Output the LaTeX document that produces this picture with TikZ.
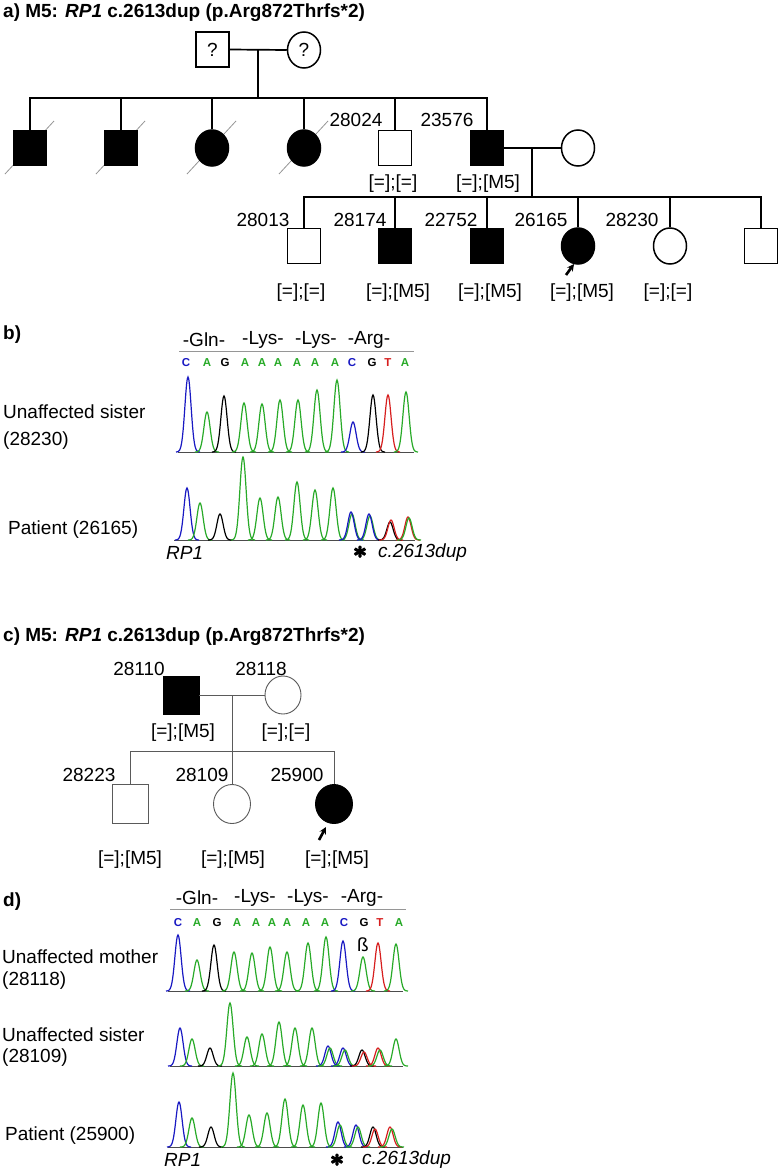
\documentclass[tikz,border=0pt]{standalone}
\usepackage{fontspec}
\setmainfont{Liberation Sans}
\usetikzlibrary{arrows.meta,shapes.geometric}
\definecolor{cblue}{RGB}{25,25,195}
\definecolor{cgreen}{RGB}{40,170,40}
\definecolor{cred}{RGB}{215,30,30}
\definecolor{cgray}{RGB}{150,150,150}
\definecolor{thinline}{RGB}{90,90,90}
\newcommand{\heavyast}{\special{pdf:literal direct 2 Tr 1.2 w}$\ast$\special{pdf:literal direct 0 Tr}}
\tikzset{
 lbl/.style={inner sep=0pt, font=\fontsize{19}{21}\selectfont},
 lblw/.style={lbl, anchor=west},
 ttl/.style={inner sep=0pt, anchor=west, font=\fontsize{19}{21}\selectfont\bfseries},
 nuc/.style={inner sep=0pt, font=\fontsize{11.5}{13}\selectfont\bfseries},
 sq/.style={draw, rectangle, minimum width=33pt, minimum height=35pt, inner sep=0pt, line width=1.5pt, font=\fontsize{19}{21}\selectfont},
 ci/.style={draw, ellipse, minimum width=33pt, minimum height=36pt, inner sep=0pt, line width=1.5pt, font=\fontsize{19}{21}\selectfont},
 sqc/.style={draw=thinline, rectangle, minimum width=36pt, minimum height=38pt, inner sep=0pt, line width=0.9pt},
 cic/.style={draw=thinline, ellipse, minimum width=36pt, minimum height=38pt, inner sep=0pt, line width=0.9pt},
 aff/.style={fill=black, draw=black},
 un/.style={fill=white},
 conn/.style={line width=1.7pt},
 thinconn/.style={line width=0.9pt, draw=thinline},
 dec/.style={draw=cgray, line width=0.8pt},
 proband/.style={-{Stealth[length=7pt,width=7pt]}, line width=2.6pt},
 trace/.style={line width=1.2pt},
 tbase/.style={line width=0.8pt, draw=black!70},
 aaline/.style={draw=cgray, line width=0.8pt},
 star/.style={inner sep=0pt, font=\fontsize{25}{25}\selectfont\boldmath},
 ital/.style={lblw, font=\fontsize{19}{21}\selectfont\itshape},
}
\newcommand{\peaks}[2]{%
 \foreach \c/\p/\t in {#2} {\draw[trace,\c] plot[domain=\p-12:\p+12,samples=35,smooth] (\x,{#1-(#1-\t)*exp(-((\x-\p)/4.4)^2)});}}
\begin{document}
\begin{tikzpicture}[x=1pt,y=-1pt]
\fill[white] (0,0) rectangle (781,1175);
\useasboundingbox (0,0) rectangle (781,1175);

% ---------------- panel a ----------------
\node[ttl] (ta) at (3,13) {a) M5: \textit{RP1} c.2613dup (p.Arg872Thrfs*2)};
\node[sq, un] (aF) at (212.5,49.5) {?};
\node[ci, un] (aM) at (304,50) {?};
\draw[dec] (5,174) -- (54,121);
\draw[dec] (96,174) -- (145,121);
\draw[dec] (187,174) -- (236,121);
\draw[dec] (279,174) -- (328,121);
\node[sq, aff] (a1) at (30,148) {};
\node[sq, aff] (a2) at (121,148) {};
\node[ci, aff] (a3) at (212,148) {};
\node[ci, aff] (a4) at (304,148) {};
\node[sq, un] (a5) at (395,148) {};
\node[sq, aff] (a6) at (487,148) {};
\node[ci, un] (a7) at (578,148) {};
\coordinate (aJ) at (258,50);
\coordinate (aSL) at (30,98);
\draw[conn] (aF.east) -- (aM.west);
\draw[conn] (aJ) -- (aJ |- aSL);
\draw[conn] (a1.north) -- (a1.north |- aSL) -- (a6.north |- aSL) -- (a6.north);
\foreach \n in {a2,a3,a4,a5} \draw[conn] (\n.north) -- (\n.north |- aSL);
\node[lbl] (la5) at (356,120) {28024};
\node[lbl] (la6) at (447,120) {23576};
\node[lbl] (ga5) at (393,184) {[=];[=]};
\node[lbl] (ga6) at (488,184) {[=];[M5]};

\node[sq, un] (b1) at (304,246) {};
\node[sq, aff] (b2) at (395,246) {};
\node[sq, aff] (b3) at (487,246) {};
\node[ci, aff] (b4) at (578,246) {};
\node[ci, un] (b5) at (670,246) {};
\node[sq, un] (b6) at (761,246) {};
\coordinate (bJ) at (532,148);
\coordinate (bSL) at (304,197);
\draw[conn] (a6.east) -- (a7.west);
\draw[conn] (bJ) -- (bJ |- bSL);
\draw[conn] (b1.north) -- (b1.north |- bSL) -- (b6.north |- bSL) -- (b6.north);
\foreach \n in {b2,b3,b4,b5} \draw[conn] (\n.north) -- (\n.north |- bSL);
\node[lbl] (lb1) at (263,220) {28013};
\node[lbl] (lb2) at (360,220) {28174};
\node[lbl] (lb3) at (451,220) {22752};
\node[lbl] (lb4) at (541,220) {26165};
\node[lbl] (lb5) at (632,220) {28230};
\node[lbl] (gb1) at (301,293) {[=];[=]};
\node[lbl] (gb2) at (398,293) {[=];[M5]};
\node[lbl] (gb3) at (490,293) {[=];[M5]};
\node[lbl] (gb4) at (582,293) {[=];[M5]};
\node[lbl] (gb5) at (668,293) {[=];[=]};
\coordinate (pa0) at (566,275);
\coordinate (pa1) at (574,264);
\draw[proband] (pa0) -- (pa1);

% ---------------- panel b ----------------
\node[ttl] (tb) at (3,335) {b)};
\node[lbl] (aab1) at (204,340) {-Gln-};
\node[lbl] (aab2) at (263,340) {-Lys-};
\node[lbl] (aab3) at (316,340) {-Lys-};
\node[lbl] (aab4) at (369,340) {-Arg-};
\draw[aaline] (179,351) -- (414,351);
\foreach \l/\p/\c in {C/186/cblue, A/207/cgreen, G/225/black, A/245/cgreen, A/262/cgreen, A/278/cgreen, A/297/cgreen, A/315/cgreen, A/335/cgreen, C/352/cblue, G/372/black, T/388/cred, A/405/cgreen}
  \node[nuc, text=\c] at (\p,363) {\l};
\node[lblw] (sb1) at (3,412) {Unaffected sister};
\node[lblw] (sb2) at (3,441) {(28230)};
\draw[tbase] (178,452) -- (414,452);
\peaks{452}{cblue/188/377, cgreen/207/412, black/224/396, cgreen/244/403, cgreen/262/404, cgreen/280/400, cgreen/298/400, cgreen/317/390, cgreen/337/380, cblue/353/422, black/373/395, cred/388/395, cgreen/406/392}
\node[lblw] (pb1) at (8,530) {Patient (26165)};
\draw[tbase] (174,540) -- (415,540);
\peaks{540}{cblue/187/488, cgreen/200/503, black/220/514, cgreen/243/457, cgreen/260/498, cgreen/278/497, cgreen/297/482, cgreen/315/490, cgreen/333/488, cgreen/352/514, cblue/351/512, cgreen/370/516, cblue/369/514, black/390/522, cred/391/520, cred/408/517, cgreen/409/518}
\node[ital] (rb) at (166,553) {RP1};
\node[star] (sb) at (360,552) {\heavyast};
\node[ital] (cb) at (378,553) {c.2613dup};

% ---------------- panel c ----------------
\node[ttl] (tc) at (3,637) {c) M5: \textit{RP1} c.2613dup (p.Arg872Thrfs*2)};
\node[sqc, aff] (c1) at (181,695) {};
\node[cic, un] (c2) at (283,695) {};
\node[sqc, un, minimum height=39pt] (c3) at (130,804) {};
\node[cic, un, minimum width=37pt, minimum height=39pt] (c4) at (232,804) {};
\node[cic, aff, minimum width=37pt, minimum height=39pt] (c5) at (334,804) {};
\coordinate (cJ) at (232,696);
\coordinate (cSL) at (130,751);
\draw[thinconn] (c1.east) -- (c2.west);
\draw[thinconn] (cJ) -- (c4.north);
\draw[thinconn] (c3.north) -- (c3.north |- cSL) -- (c5.north |- cSL) -- (c5.north);
\node[lbl] (lc1) at (139,669) {28110};
\node[lbl] (lc2) at (261,669) {28118};
\node[lbl] (gc1) at (183,733) {[=];[M5]};
\node[lbl] (gc2) at (286,733) {[=];[=]};
\node[lbl] (lc3) at (89,775) {28223};
\node[lbl] (lc4) at (202,775) {28109};
\node[lbl] (lc5) at (297,775) {25900};
\node[lbl] (gc3) at (130,860) {[=];[M5]};
\node[lbl] (gc4) at (233,860) {[=];[M5]};
\node[lbl] (gc5) at (337,860) {[=];[M5]};
\coordinate (pc0) at (319,840);
\coordinate (pc1) at (326,827);
\draw[proband] (pc0) -- (pc1);

% ---------------- panel d ----------------
\node[ttl] (td) at (3,902) {d)};
\node[lbl] (aad1) at (197,898) {-Gln-};
\node[lbl] (aad2) at (255,898) {-Lys-};
\node[lbl] (aad3) at (308,898) {-Lys-};
\node[lbl] (aad4) at (362,898) {-Arg-};
\draw[aaline] (170,909) -- (406,909);
\foreach \l/\p/\c in {C/178/cblue, A/197/cgreen, G/217/black, A/237/cgreen, A/256/cgreen, A/272/cgreen, A/287/cgreen, A/306/cgreen, A/325/cgreen, C/344/cblue, G/364/black, T/380/cred, A/399/cgreen}
  \node[nuc, text=\c] at (\p,923) {\l};
\node[lblw] (md1) at (2,957) {Unaffected mother};
\node[lblw] (md2) at (2,981) {(28118)};
\draw[tbase] (168,991) -- (403,991);
\peaks{991}{cblue/178/935, cgreen/197/960, black/214/945, cgreen/234/952, cgreen/252/953, cgreen/270/947, cgreen/287/952, cgreen/308/943, cgreen/326/937, cblue/343/941, cgreen/363/957, cred/378/943, cgreen/396/944}
\node[lbl] (beta) at (363,945) {ß};
\node[lblw] (sd1) at (2,1035) {Unaffected sister};
\node[lblw] (sd2) at (2,1058) {(28109)};
\draw[tbase] (170,1066) -- (403,1066);
\peaks{1066}{cblue/180/1028, cgreen/192/1039, black/210/1048, cgreen/230/1003, cgreen/247/1037, cgreen/262/1034, cgreen/279/1022, cgreen/295/1028, cgreen/312/1028, cblue/328/1046, cgreen/330/1048, cblue/343/1048, cgreen/345/1050, black/362/1050, cred/364/1052, cred/378/1048, cgreen/380/1050, cgreen/396/1039}
\node[lblw] (pd1) at (5,1136) {Patient (25900)};
\draw[tbase] (168,1147) -- (403,1147);
\peaks{1147}{cblue/179/1102, cgreen/192/1118, black/211/1127, cgreen/233/1073, cgreen/249/1115, cgreen/267/1113, cgreen/285/1099, cgreen/303/1105, cgreen/321/1103, cblue/338/1122, cgreen/340/1125, cblue/356/1125, cgreen/358/1127, black/373/1127, cred/375/1129, cred/390/1127, cgreen/392/1129}
\node[ital] (rd) at (164,1160) {RP1};
\node[star] (sd) at (337,1160) {\heavyast};
\node[ital] (cd) at (362,1160) {c.2613dup};
\end{tikzpicture}
\end{document}
